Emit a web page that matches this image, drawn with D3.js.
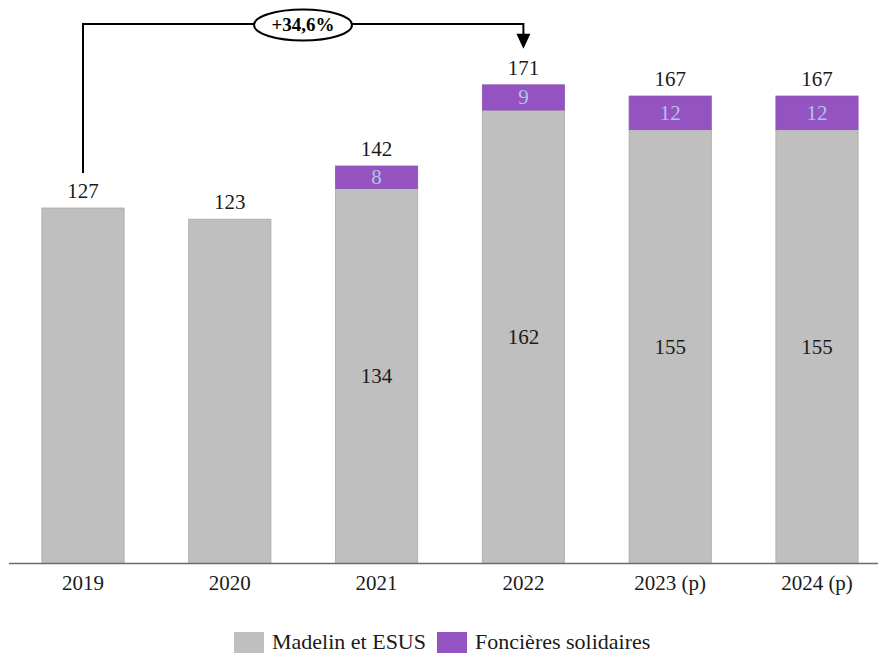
<!DOCTYPE html>
<html>
<head>
<meta charset="utf-8">
<script src="https://cdn.jsdelivr.net/npm/d3@7"></script>
<style>
  html, body { margin: 0; padding: 0; background: #fff; }
</style>
</head>
<body>
<svg id="chart" width="878" height="654"></svg>
<script>
// Categories and series
const years = ["2019", "2020", "2021", "2022", "2023 (p)", "2024 (p)"];
const madelin = [127, 123, 134, 162, 155, 155];
const foncieres = [0, 0, 8, 9, 12, 12];
const totals = [127, 123, 142, 171, 167, 167];
const seriesNames = ["Madelin et ESUS", "Foncières solidaires"];
const growthLabel = "+34,6%";

const colors = { madelin: "#BFBFBF", foncieres: "#9453C1", fonLabel: "#A9C6EC" };
const FONT = "'Liberation Serif', 'DejaVu Serif', serif";

const svg = d3.select("#chart").attr("font-family", FONT);
const baseY = 563.5;

const x = d3.scaleBand()
  .domain(years)
  .range([9.6, 890.4])
  .paddingInner(0.44)
  .paddingOuter(0.22);

const y = d3.scaleLinear()
  .domain([0, 127])
  .range([baseY, 208]);

const data = years.map((yr, i) => ({
  year: yr, madelin: madelin[i], foncieres: foncieres[i], total: totals[i]
}));

const g = svg.append("g");

// Madelin et ESUS segment
g.selectAll("rect.mad").data(data).join("rect")
  .attr("class", "mad")
  .attr("x", d => x(d.year))
  .attr("width", x.bandwidth())
  .attr("y", d => y(d.madelin))
  .attr("height", d => y(0) - y(d.madelin))
  .attr("fill", colors.madelin)
  .attr("stroke", "#A8A8A8")
  .attr("stroke-width", 0.8);

// Foncières solidaires segment
g.selectAll("rect.fon").data(data.filter(d => d.foncieres > 0)).join("rect")
  .attr("class", "fon")
  .attr("x", d => x(d.year))
  .attr("width", x.bandwidth())
  .attr("y", d => y(d.madelin + d.foncieres))
  .attr("height", d => y(d.madelin) - y(d.madelin + d.foncieres))
  .attr("fill", colors.foncieres)
  .attr("stroke", "#8A55B5")
  .attr("stroke-width", 0.8);

// Total labels above bars
g.selectAll("text.tot").data(data).join("text")
  .attr("class", "tot")
  .attr("x", d => x(d.year) + x.bandwidth() / 2)
  .attr("y", d => y(d.total) - 10)
  .attr("text-anchor", "middle")
  .attr("font-family", FONT)
  .attr("font-size", 21)
  .attr("fill", "#1a1a1a")
  .text(d => d.total);

// Inner labels for stacked bars
const stacked = data.filter(d => d.foncieres > 0);
g.selectAll("text.madl").data(stacked).join("text")
  .attr("class", "madl")
  .attr("x", d => x(d.year) + x.bandwidth() / 2)
  .attr("y", d => (y(0) + y(d.madelin)) / 2 + 7)
  .attr("text-anchor", "middle")
  .attr("font-family", FONT)
  .attr("font-size", 21)
  .attr("fill", "#1a1a1a")
  .text(d => d.madelin);

g.selectAll("text.fonl").data(stacked).join("text")
  .attr("class", "fonl")
  .attr("x", d => x(d.year) + x.bandwidth() / 2)
  .attr("y", d => (y(d.madelin) + y(d.madelin + d.foncieres)) / 2 + 7)
  .attr("text-anchor", "middle")
  .attr("font-family", FONT)
  .attr("font-size", 21)
  .attr("fill", colors.fonLabel)
  .text(d => d.foncieres);

// Baseline axis
svg.append("line")
  .attr("x1", 9).attr("x2", 878)
  .attr("y1", baseY).attr("y2", baseY)
  .attr("stroke", "#6b6b6b")
  .attr("stroke-width", 1.5);

const xAxis = svg.append("g")
  .attr("transform", `translate(0,${baseY})`)
  .call(d3.axisBottom(x).tickSize(0).tickPadding(12))
  .attr("font-family", FONT)
  .attr("font-size", 21);
xAxis.select(".domain").remove();
xAxis.selectAll("text")
  .attr("fill", "#1a1a1a");

// Growth annotation 2019 -> 2022
const cx0 = x("2019") + x.bandwidth() / 2;
const cx1 = x("2022") + x.bandwidth() / 2;
const topY = 24;
svg.append("path")
  .attr("d", `M${cx0},${y(totals[0]) - 35} V${topY} H${cx1} V${y(totals[3]) - 50}`)
  .attr("fill", "none")
  .attr("stroke", "#000")
  .attr("stroke-width", 2);
svg.append("path")
  .attr("d", `M${cx1 - 7},${y(totals[3]) - 51} L${cx1 + 7},${y(totals[3]) - 51} L${cx1},${y(totals[3]) - 36} Z`)
  .attr("fill", "#000");

svg.append("ellipse")
  .attr("cx", 303).attr("cy", 25)
  .attr("rx", 49).attr("ry", 15.5)
  .attr("fill", "#fff")
  .attr("stroke", "#000")
  .attr("stroke-width", 2);
svg.append("text")
  .attr("x", 303).attr("y", 31)
  .attr("text-anchor", "middle")
  .attr("font-family", FONT)
  .attr("font-size", 19)
  .attr("font-weight", "bold")
  .attr("fill", "#000")
  .text(growthLabel);

// Legend
const legend = svg.append("g").attr("transform", "translate(234,632)");
const legendColors = [colors.madelin, colors.foncieres];
const legendX = [0, 203];
seriesNames.forEach((name, i) => {
  legend.append("rect")
    .attr("x", legendX[i]).attr("y", 0)
    .attr("width", 30).attr("height", 21)
    .attr("fill", legendColors[i]);
  legend.append("text")
    .attr("x", legendX[i] + 38).attr("y", 17)
    .attr("font-family", FONT)
    .attr("font-size", 22)
    .attr("fill", "#1a1a1a")
    .text(name);
});
</script>
</body>
</html>
